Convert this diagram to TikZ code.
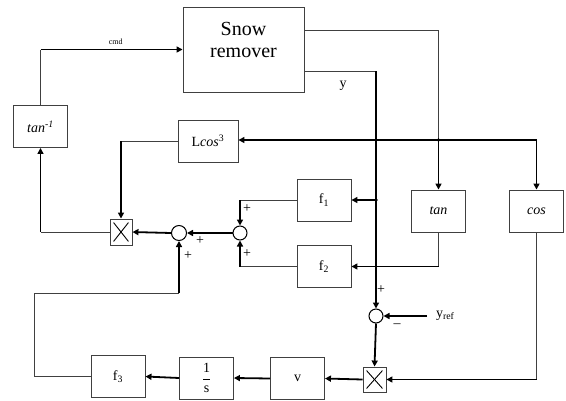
\documentclass[tikz,border=0pt]{standalone}
\usepackage{fontspec}
\setmainfont{Liberation Serif}
\usetikzlibrary{arrows.meta,positioning}

\begin{document}
\begin{tikzpicture}[x=1pt,y=-1pt,
  blk/.style={draw=black!75,line width=0.9pt,minimum width=54pt,minimum height=42pt,
              inner sep=0pt,font=\fontsize{14}{16}\selectfont},
  sumc/.style={circle,draw=black,line width=1pt,minimum size=14pt,inner sep=0pt},
  mul/.style={draw=black!75,line width=0.9pt,minimum width=23pt,minimum height=25pt,inner sep=0pt},
  thn/.style={line width=0.9pt,draw=black!75},
  thk/.style={line width=1.8pt,draw=black},
  arr/.style={thk,-{Triangle[length=6pt,width=6pt]}},
  sgn/.style={font=\fontsize{14}{14}\selectfont,inner sep=0pt}]
\useasboundingbox (0,0) rectangle (566,400);
\node[blk,minimum width=121pt,minimum height=85pt,
      label={[font=\fontsize{20}{22}\selectfont,align=center,yshift=10pt]center:Snow\\remover}]
  (snow) at (243.5,49.5) {};
\node[blk] (atan) at (40.5,126.5) {\textit{tan}\textsuperscript{\textit{-1}}};
\node[blk,minimum width=60pt] (lcos) at (208,141) {L\textit{cos}\textsuperscript{3}};
\node[blk] (f1) at (324,200) {f\textsubscript{1}};
\node[blk] (f2) at (324,266.5) {f\textsubscript{2}};
\node[blk] (tan) at (438.5,211) {\textit{tan}};
\node[blk] (cos) at (536.5,211) {\textit{cos}};
\node[blk] (v) at (297.5,378.5) {v};
\node[blk] (integ) at (206.5,378) {$\displaystyle\frac{\textrm{1}}{\textrm{s}}$};
\node[blk] (f3) at (118,376.5) {f\textsubscript{3}};
\node[sumc] (sy) at (376,316) {};
\node[sumc,minimum size=15pt] (s2) at (179,233) {};
\node[sumc] (s3) at (240,233) {};
\node[mul] (mB) at (374.5,379.5) {};
\node[mul,minimum width=22pt,minimum height=26pt] (mL) at (121,232) {};
\foreach \m in {mB,mL}{
  \draw[thn,draw=black] ([shift={(4pt,-4pt)}]\m.north west) -- ([shift={(-4pt,4pt)}]\m.south east);
  \draw[thn,draw=black] ([shift={(4pt,4pt)}]\m.south west) -- ([shift={(-4pt,-4pt)}]\m.north east);
}
\node[anchor=west,inner sep=0pt,outer xsep=9pt,font=\fontsize{14}{16}\selectfont]
  (yref) at (427,316) {y\textsubscript{ref}};
\coordinate (jn) at (438.5,140);
\coordinate (yn) at (376,71);
\coordinate (fb) at (179,293);
% top: command and outputs
\draw[thn] (atan.north) -- (atan.north |- snow.west) coordinate (c1);
\draw[arr] (c1) -- (snow.west) node[pos=0.53,above=1pt,font=\fontsize{8}{9}\selectfont] {cmd};
\draw[thn] ([yshift=19.5pt]snow.east) -| (jn);
\draw[arr] (jn) -- (tan.north);
\draw[arr] (jn) -| (cos.north);
\draw[arr] (jn) -- (jn -| lcos.east);
\fill (jn) circle (1.8pt);
\draw[thn] ([yshift=-21.5pt]snow.east) -- (yn);
\draw[arr] (yn) -- (sy.north);
\node[font=\fontsize{14}{15}\selectfont] at (343,86) {y};
\coordinate (yb) at (376,200);
\draw[arr] (yb) -- (f1.east);
\fill (yb) circle (1.8pt);
% tan and cos
\draw[thn] (tan.south) -- (tan.south |- f2.east) coordinate (tk);
\draw[arr] (tk) -- (f2.east);
\draw[thn] (cos.south) -- (cos.south |- mB.east) coordinate (ck);
\draw[arr] (ck) -- (mB.east);
% error and bottom chain
\draw[arr] (yref.west) -- (sy.east);
\node[sgn] at (381,290) {+};
\node[sgn] at (397,326) {–};
\draw[arr] (sy.south) -- (mB.north);
\draw[arr] (mB.west) -- (v.east);
\draw[arr] (v.west) -- (integ.east);
\draw[arr] (integ.west) -- (f3.east);
\draw[thn] (f3.west) -- ++(-56,0) |- (fb);
\draw[arr] (fb) -- (s2.south);
% sums
\draw[thn] (f1.west) -- (f1.west -| s3) coordinate (a1);
\draw[arr] (a1) -- (s3.north);
\draw[thn] (f2.west) -- (f2.west -| s3) coordinate (a2);
\draw[arr] (a2) -- (s3.south);
\node[sgn] at (247,209) {+};
\node[sgn] at (247,254) {+};
\draw[arr] (s3.west) -- (s2.east);
\node[sgn] at (200,241) {+};
\node[sgn] at (188,256) {+};
\draw[arr] (s2.west) -- (mL.east);
% left loop
\draw[thn] (lcos.west) -- (lcos.west -| mL) coordinate (lk);
\draw[arr] (lk) -- (mL.north);
\draw[thn] (mL.west) -- (mL.west -| atan) coordinate (ak);
\draw[arr] (ak) -- (atan.south);
\end{tikzpicture}
\end{document}
